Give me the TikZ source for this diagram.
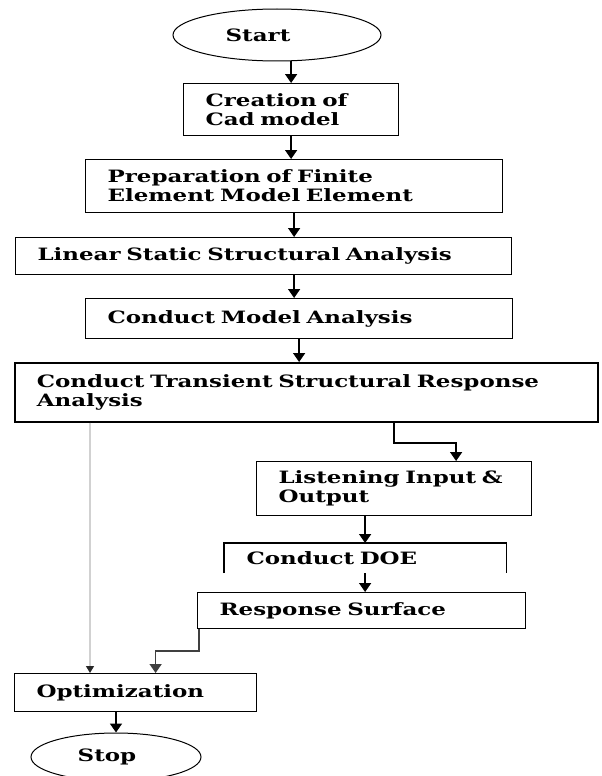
\documentclass[tikz,border=0pt]{standalone}
\usepackage{fontspec}
\setmainfont{DejaVu Serif}[FakeStretch=1.35]
\usetikzlibrary{shapes.geometric,arrows.meta}
\begin{document}
\begin{tikzpicture}[x=1pt,y=-1pt,
  txt/.style={font=\fontsize{17}{19}\selectfont\bfseries},
  box/.style={txt,draw,line width=1.2pt,anchor=north west,inner xsep=22pt,inner ysep=0pt,align=left},
  term/.style={draw,ellipse,line width=1pt,inner sep=0pt},
  arr/.style={line width=1.6pt,-{Triangle[width=12pt,length=9pt]}},
  faint/.style={draw=black!18,line width=1.2pt,-{Triangle[width=8pt,length=7pt,color=black!85]}}]
\useasboundingbox (0,0) rectangle (602,776);
\node[term,minimum width=208,minimum height=52,label={[txt,xshift=-19]center:Start}] (start) at (277,35) {};
\node[box,text width=171,minimum height=52] (creation) at (183,83) {Creation of\\Cad model};
\node[box,text width=373,minimum height=53] (prep) at (85,159) {Preparation of Finite\\Element Model Element};
\node[box,text width=452,minimum height=37] (linear) at (15,237) {Linear Static Structural Analysis};
\node[box,text width=383,minimum height=40] (model) at (85,298) {Conduct Model Analysis};
\node[box,text width=539,minimum height=59,line width=1.7pt] (transient) at (14,362) {Conduct Transient Structural Response\\Analysis};
\node[box,text width=231,minimum height=54] (listening) at (256,461) {Listening Input \&\\Output};
\node[box,draw=none,text width=237,minimum height=29] (doe) at (224,543) {Conduct DOE};
\draw[line width=1.2pt] (doe.south west) -- (doe.north west) -- (doe.north east) -- (doe.south east);
\node[box,text width=284,minimum height=36] (response) at (197,592) {Response Surface};
\node[box,text width=198,minimum height=38] (optim) at (14,673) {Optimization};
\node[term,minimum width=170,minimum height=48,label={[txt,xshift=-9]center:Stop}] (stop) at (116,757) {};
\draw[arr] (creation.north |- start.south) -- (creation.north);
\draw[arr] (creation.south) -- (creation.south |- prep.north);
\draw[arr] (prep.south) -- (prep.south |- linear.north);
\draw[arr] ([xshift=-5]model.north |- linear.south) -- ([xshift=-5]model.north);
\draw[arr] (model.south) -- (model.south |- transient.north);
\draw[arr] (transient.south -| listening.north) -- ++(0,20) -| ([xshift=62]listening.north);
\draw[arr] (listening.south -| doe.north) -- (doe.north);
\draw[arr] (doe.south) -- (doe.south |- response.north);
\draw[arr,draw=black!75] ([xshift=2]response.south west) -- ++(0,22) -| ([xshift=20]optim.north);
\draw[faint] ([xshift=76]transient.south west) -- ([xshift=76]optim.north west);
\draw[arr] (optim.south -| stop.north) -- (stop.north);
\end{tikzpicture}
\end{document}
